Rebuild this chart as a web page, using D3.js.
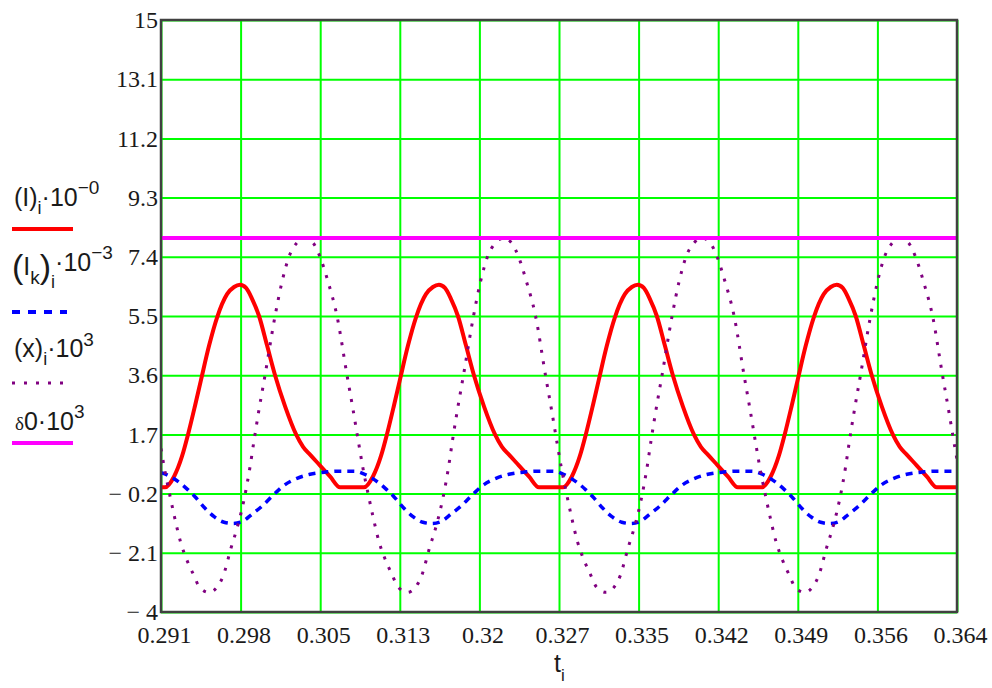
<!DOCTYPE html>
<html lang="en">
<head>
<meta charset="utf-8">
<title>I, Ik, x and delta0 against t</title>
<script src="https://d3js.org/d3.v7.min.js"></script>
<style>
  body { margin: 0; background: #fff; }
  svg text { fill: #1a1a1a; }
</style>
</head>
<body>
<script>
// axis ticks (Mathcad style: 10 divisions each way)
var xTickValues = [0.291, 0.2983, 0.3056, 0.3129, 0.3202, 0.3275, 0.3348, 0.3421, 0.3494, 0.3567, 0.364];
var xTickLabels = ["0.291", "0.298", "0.305", "0.313", "0.32", "0.327", "0.335", "0.342", "0.349", "0.356", "0.364"];
var yTickValues = [15, 13.1, 11.2, 9.3, 7.4, 5.5, 3.6, 1.7, -0.2, -2.1, -4];
var yTickLabels = ["15", "13.1", "11.2", "9.3", "7.4", "5.5", "3.6", "1.7", "\u2212 0.2", "\u2212 2.1", "\u2212 4"];

// (I)i * 10^-0  [t, value]
var seriesI = [
  [0.291, 0], [0.29137, 0], [0.29220, 0.35], [0.29293, 1.0], [0.29348, 1.7], [0.29412, 2.62], [0.29467, 3.45],
  [0.29541, 4.55], [0.29614, 5.45], [0.29706, 6.2], [0.29770, 6.43], [0.29825, 6.5], [0.29880, 6.4], [0.29935, 6.05],
  [0.29999, 5.5], [0.30073, 4.55], [0.30146, 3.6], [0.30238, 2.6], [0.30339, 1.7], [0.30403, 1.3], [0.30467, 1.05],
  [0.30559, 0.7], [0.30650, 0.35], [0.30742, 0],
  [0.30961, 0], [0.31044, 0.35], [0.31117, 1.0], [0.31172, 1.7], [0.31236, 2.62], [0.31291, 3.45], [0.31365, 4.55],
  [0.31438, 5.45], [0.31530, 6.2], [0.31594, 6.43], [0.31649, 6.5], [0.31704, 6.4], [0.31759, 6.05], [0.31823, 5.5],
  [0.31897, 4.55], [0.31970, 3.6], [0.32062, 2.6], [0.32163, 1.7], [0.32227, 1.3], [0.32291, 1.05], [0.32383, 0.7],
  [0.32474, 0.35], [0.32566, 0],
  [0.32785, 0], [0.32868, 0.35], [0.32941, 1.0], [0.32996, 1.7], [0.33060, 2.62], [0.33115, 3.45], [0.33189, 4.55],
  [0.33262, 5.45], [0.33354, 6.2], [0.33418, 6.43], [0.33473, 6.5], [0.33528, 6.4], [0.33583, 6.05], [0.33647, 5.5],
  [0.33721, 4.55], [0.33794, 3.6], [0.33886, 2.6], [0.33987, 1.7], [0.34051, 1.3], [0.34115, 1.05], [0.34207, 0.7],
  [0.34298, 0.35], [0.34390, 0],
  [0.34609, 0], [0.34692, 0.35], [0.34765, 1.0], [0.34820, 1.7], [0.34884, 2.62], [0.34939, 3.45], [0.35013, 4.55],
  [0.35086, 5.45], [0.35178, 6.2], [0.35242, 6.43], [0.35297, 6.5], [0.35352, 6.4], [0.35407, 6.05], [0.35471, 5.5],
  [0.35545, 4.55], [0.35618, 3.6], [0.35710, 2.6], [0.35811, 1.7], [0.35875, 1.3], [0.35939, 1.05], [0.36031, 0.7],
  [0.36122, 0.35], [0.36214, 0], [0.364, 0]
];

// (Ik)i * 10^-3
var seriesIk = [
  [0.291, 0.47], [0.29156, 0.40], [0.29275, 0.14], [0.29348, -0.08], [0.29412, -0.30], [0.29504, -0.67], [0.29587, -0.94],
  [0.29678, -1.12], [0.29761, -1.16], [0.29843, -1.10], [0.29935, -0.86], [0.30027, -0.60], [0.30146, -0.19],
  [0.30238, 0.09], [0.30348, 0.29], [0.30467, 0.42], [0.30605, 0.49], [0.30742, 0.52],
  [0.30870, 0.52], [0.30980, 0.40], [0.31099, 0.14], [0.31172, -0.08], [0.31236, -0.30], [0.31328, -0.67], [0.31411, -0.94],
  [0.31502, -1.12], [0.31585, -1.16], [0.31667, -1.10], [0.31759, -0.86], [0.31851, -0.60], [0.31970, -0.19],
  [0.32062, 0.09], [0.32172, 0.29], [0.32291, 0.42], [0.32429, 0.49], [0.32566, 0.52],
  [0.32694, 0.52], [0.32804, 0.40], [0.32923, 0.14], [0.32996, -0.08], [0.33060, -0.30], [0.33152, -0.67], [0.33235, -0.94],
  [0.33326, -1.12], [0.33409, -1.16], [0.33491, -1.10], [0.33583, -0.86], [0.33675, -0.60], [0.33794, -0.19],
  [0.33886, 0.09], [0.33996, 0.29], [0.34115, 0.42], [0.34253, 0.49], [0.34390, 0.52],
  [0.34518, 0.52], [0.34628, 0.40], [0.34747, 0.14], [0.34820, -0.08], [0.34884, -0.30], [0.34976, -0.67], [0.35059, -0.94],
  [0.35150, -1.12], [0.35233, -1.16], [0.35315, -1.10], [0.35407, -0.86], [0.35499, -0.60], [0.35618, -0.19],
  [0.35710, 0.09], [0.35820, 0.29], [0.35939, 0.42], [0.36077, 0.49], [0.36214, 0.52], [0.364, 0.52]
];

// (x)i * 10^3
var seriesX = [
  [0.291, 1.25], [0.29132, 0.6], [0.29178, -0.2], [0.29224, -0.95], [0.29279, -1.75], [0.29334, -2.3], [0.29398, -2.8],
  [0.29453, -3.2],
  [0.29540, -3.37], [0.29614, -3.2], [0.29669, -2.85], [0.29742, -1.95], [0.29806, -1.2], [0.29861, -0.4], [0.29916, 0.65],
  [0.29953, 1.5], [0.29999, 2.5], [0.30054, 3.6], [0.30146, 5.5], [0.30210, 6.6], [0.30274, 7.4], [0.30347, 7.85],
  [0.30421, 8.0], [0.30494, 7.85], [0.30558, 7.4], [0.30632, 6.6], [0.30714, 5.5], [0.30806, 3.6], [0.30861, 2.5],
  [0.30916, 1.35], [0.30953, 0.6], [0.30999, -0.2], [0.31045, -0.95], [0.31100, -1.75], [0.31155, -2.3], [0.31219, -2.8],
  [0.31274, -3.2],
  [0.31361, -3.37], [0.31434, -3.2], [0.31489, -2.85], [0.31562, -1.95], [0.31627, -1.2], [0.31682, -0.4], [0.31737, 0.65],
  [0.31773, 1.5], [0.31819, 2.5], [0.31874, 3.6], [0.31966, 5.5], [0.32030, 6.6], [0.32094, 7.4], [0.32168, 7.85],
  [0.32241, 8.0], [0.32314, 7.85], [0.32379, 7.4], [0.32452, 6.6], [0.32535, 5.5], [0.32626, 3.6], [0.32681, 2.5],
  [0.32736, 1.35], [0.32773, 0.6], [0.32819, -0.2], [0.32865, -0.95], [0.32920, -1.75], [0.32975, -2.3], [0.33039, -2.8],
  [0.33094, -3.2],
  [0.33182, -3.37], [0.33255, -3.2], [0.33310, -2.85], [0.33383, -1.95], [0.33448, -1.2], [0.33503, -0.4], [0.33558, 0.65],
  [0.33594, 1.5], [0.33640, 2.5], [0.33695, 3.6], [0.33787, 5.5], [0.33851, 6.6], [0.33915, 7.4], [0.33989, 7.85],
  [0.34062, 8.0], [0.34135, 7.85], [0.34200, 7.4], [0.34273, 6.6], [0.34356, 5.5], [0.34447, 3.6], [0.34502, 2.5],
  [0.34557, 1.35], [0.34594, 0.6], [0.34640, -0.2], [0.34686, -0.95], [0.34741, -1.75], [0.34796, -2.3], [0.34860, -2.8],
  [0.34915, -3.2],
  [0.35002, -3.37], [0.35075, -3.2], [0.35130, -2.85], [0.35203, -1.95], [0.35268, -1.2], [0.35323, -0.4], [0.35378, 0.65],
  [0.35414, 1.5], [0.35460, 2.5], [0.35515, 3.6], [0.35607, 5.5], [0.35671, 6.6], [0.35735, 7.4], [0.35809, 7.85],
  [0.35882, 8.0], [0.35955, 7.85], [0.36020, 7.4], [0.36093, 6.6], [0.36176, 5.5], [0.36267, 3.6], [0.36322, 2.5],
  [0.36377, 1.35], [0.364, 0.9]
];

// delta0 * 10^3 (constant)
var delta0 = 8.0;

var w = 992, h = 688;
var plotL = 161, plotR = 957, plotT = 20, plotB = 612;

var x = d3.scaleLinear().domain([0.291, 0.364]).range([plotL, plotR]);
var y = d3.scaleLinear().domain([-4, 15]).range([plotB, plotT]);

var svg = d3.select("body").append("svg")
  .attr("width", w)
  .attr("height", h);

var serif = "'Liberation Serif', 'Times New Roman', serif";
var sans = "'Liberation Sans', Arial, sans-serif";

//Grid + tick labels
var gx = svg.append("g")
  .attr("transform", "translate(0," + plotB + ")")
  .call(d3.axisBottom(x)
    .tickValues(xTickValues)
    .tickSize(-(plotB - plotT))
    .tickPadding(14)
    .tickFormat(function(d, i) { return xTickLabels[i]; }));

var gy = svg.append("g")
  .attr("transform", "translate(" + plotL + ",0)")
  .call(d3.axisLeft(y)
    .tickValues(yTickValues)
    .tickSize(-(plotR - plotL))
    .tickPadding(3)
    .tickFormat(function(d, i) { return yTickLabels[i]; }));

[gx, gy].forEach(function(g) {
  g.select(".domain").remove();
  g.attr("font-family", serif).attr("font-size", 24);
  g.selectAll("line").attr("stroke", "#00ff00").attr("stroke-width", 2);
  g.selectAll("text").attr("fill", "#1a1a1a");
});
gx.selectAll("text").attr("dx", 3);

//Traces
svg.append("clipPath").attr("id", "plot")
  .append("rect")
  .attr("x", plotL).attr("y", plotT)
  .attr("width", plotR - plotL).attr("height", plotB - plotT);

var line = d3.line()
  .x(function(d) { return x(d[0]); })
  .y(function(d) { return y(d[1]); })
  .curve(d3.curveMonotoneX);

var traces = svg.append("g").attr("clip-path", "url(#plot)");

traces.append("path")
  .attr("d", line(seriesI))
  .attr("fill", "none")
  .attr("stroke", "#ff0000")
  .attr("stroke-width", 4)
  .attr("stroke-linejoin", "round");

traces.append("path")
  .attr("d", line(seriesIk))
  .attr("fill", "none")
  .attr("stroke", "#0000ff")
  .attr("stroke-width", 3.5)
  .attr("stroke-dasharray", "7,6");

traces.append("path")
  .attr("d", line(seriesX))
  .attr("fill", "none")
  .attr("stroke", "#800080")
  .attr("stroke-width", 3)
  .attr("stroke-dasharray", "3,8.5");

traces.append("line")
  .attr("x1", x(0.291)).attr("x2", x(0.364))
  .attr("y1", y(delta0)).attr("y2", y(delta0))
  .attr("stroke", "#ff00ff")
  .attr("stroke-width", 4);

//Frame
svg.append("rect")
  .attr("x", plotL).attr("y", plotT)
  .attr("width", plotR - plotL).attr("height", plotB - plotT)
  .attr("fill", "none")
  .attr("stroke", "#404040")
  .attr("stroke-width", 2.5);

//Rich text helper: parts are [text, fontSize, shift, family]
function rich(px, py, parts) {
  var t = svg.append("text").attr("x", px).attr("y", py).attr("fill", "#1a1a1a");
  var cur = 0;
  parts.forEach(function(p) {
    t.append("tspan")
      .attr("dy", p[2] - cur)
      .attr("font-size", p[1])
      .attr("font-family", p[3] || sans)
      .text(p[0]);
    cur = p[2];
  });
  return t;
}

//Legend
rich(14, 206, [["(I)", 25, 0], ["i", 18, 8], ["\u00b710", 25, 0], ["\u22120", 19, -12]]);
svg.append("line").attr("x1", 12).attr("x2", 73).attr("y1", 229).attr("y2", 229)
  .attr("stroke", "#ff0000").attr("stroke-width", 4);

rich(12, 278, [["(", 34, 0], ["I", 25, -3], ["k", 19, 6], [")", 34, 0], ["i", 18, 10], ["\u00b710", 25, -7], ["\u22123", 19, -19]]);
svg.append("line").attr("x1", 12).attr("x2", 67).attr("y1", 312).attr("y2", 312)
  .attr("stroke", "#0000ff").attr("stroke-width", 4).attr("stroke-dasharray", "8,8");

rich(14, 357, [["(x)", 25, 0], ["i", 18, 8], ["\u00b710", 25, 0], ["3", 19, -11]]);
svg.append("line").attr("x1", 12).attr("x2", 64).attr("y1", 383).attr("y2", 383)
  .attr("stroke", "#800080").attr("stroke-width", 3).attr("stroke-dasharray", "3,9");

rich(15, 430, [["\u03b4", 19, 0, serif], ["0\u00b710", 25, 0], ["3", 19, -12]]);
svg.append("line").attr("x1", 12).attr("x2", 73).attr("y1", 443).attr("y2", 443)
  .attr("stroke", "#ff00ff").attr("stroke-width", 4);

//Axis title
rich(554, 672, [["t", 25, 0], ["i", 17, 9]]);
</script>
</body>
</html>
